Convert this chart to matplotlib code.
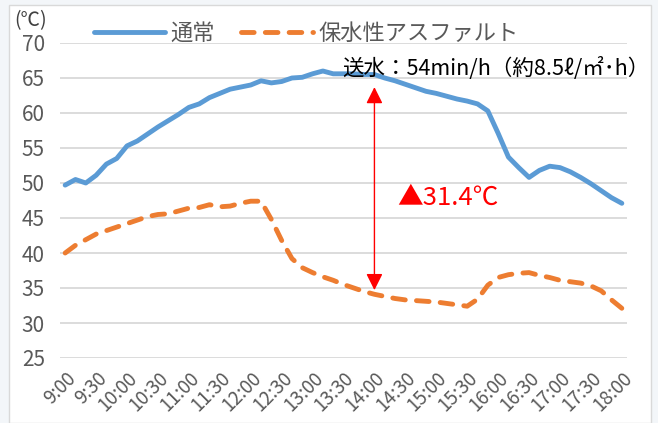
import matplotlib.pyplot as plt
from matplotlib.patches import Rectangle

plt.rcParams['font.family'] = ['Noto Sans CJK JP', 'DejaVu Sans']

# 10分間隔の測定値 (9:00〜18:00)
normal = [49.7, 50.5, 50.0, 51.1, 52.7, 53.5, 55.3, 56.0, 57.0, 58.0,
          58.9, 59.8, 60.8, 61.3, 62.2, 62.8, 63.4, 63.7, 64.0, 64.6,
          64.3, 64.5, 65.0, 65.1, 65.6, 66.0, 65.6, 65.6, 65.6, 65.5,
          65.5, 65.0, 64.6, 64.1, 63.6, 63.1, 62.8, 62.4, 62.0, 61.7,
          61.3, 60.3, 57.1, 53.7, 52.2, 50.8, 51.8, 52.4, 52.2, 51.6,
          50.8, 49.9, 48.9, 47.9, 47.1]
porous = [40.0, 41.1, 41.9, 42.7, 43.2, 43.7, 44.2, 44.7, 45.2, 45.5,
          45.6, 46.0, 46.4, 46.5, 46.9, 46.6, 46.7, 47.1, 47.4, 47.4,
          44.8, 41.8, 39.2, 37.9, 37.2, 36.6, 36.1, 35.5, 35.0, 34.5,
          34.1, 33.8, 33.5, 33.3, 33.2, 33.1, 33.0, 32.8, 32.6, 32.4,
          33.4, 35.4, 36.5, 36.9, 37.1, 37.2, 36.8, 36.5, 36.1, 35.9,
          35.7, 35.3, 34.6, 33.3, 32.1]
time_labels = ['9:00', '9:30', '10:00', '10:30', '11:00', '11:30', '12:00',
               '12:30', '13:00', '13:30', '14:00', '14:30', '15:00', '15:30',
               '16:00', '16:30', '17:00', '17:30', '18:00']
label_step = 3
arrow_idx = 30          # 14:00
arrow_top, arrow_bottom = 63.7, 34.7
diff_text = '▲31.4℃'
note_text = '送水：54min/h（約8.5ℓ/㎡･h）'

W, H = 658, 423
fig = plt.figure(figsize=(W / 100, H / 100), dpi=100, facecolor='#f3f6f9')
# 白いチャート領域
fig.patches.append(Rectangle((9 / W, 0), 642 / W, 1 - 5 / H, transform=fig.transFigure,
                             facecolor='white', edgecolor='#d9d9d9', lw=1, zorder=-10))

ax = fig.add_axes([60 / W, 1 - 358 / H, 567 / W, 315 / H])
ax.set_facecolor('none')

x = list(range(len(normal)))
ax.plot(x, normal, color='#5b9bd5', lw=3.5, solid_capstyle='round', solid_joinstyle='round',
        label='通常', zorder=3)
ax.plot(x, porous, color='#ed7d31', lw=3.5, ls=(0, (2.6, 2.3)), dash_capstyle='round',
        dash_joinstyle='round', label='保水性アスファルト', zorder=3)

ax.set_xlim(-0.5, len(normal) - 0.5)
ax.set_ylim(25, 70)
ax.set_yticks(range(25, 71, 5))
ax.set_xticks(x[::label_step])
ax.set_xticklabels(time_labels, rotation=45, ha='right', rotation_mode='anchor')
ax.tick_params(axis='both', length=0, colors='#595959')
ax.tick_params(axis='y', labelsize=15, pad=11)
ax.tick_params(axis='x', labelsize=13.5, pad=7)
ax.grid(True, axis='y', color='#d9d9d9', lw=1.3)
ax.set_axisbelow(True)
for s in ax.spines.values():
    s.set_visible(False)

# 温度差の矢印
ax.annotate('', xy=(arrow_idx, arrow_bottom), xytext=(arrow_idx, arrow_top),
            arrowprops=dict(arrowstyle='<|-|>,head_length=0.5,head_width=0.25',
                            mutation_scale=20, color='red', lw=1, shrinkA=0, shrinkB=0),
            zorder=4)
ax.text(32.2, 47.9, diff_text, color='red', fontsize=18.5, va='center', ha='left')
ax.text(26.9, 66.4, note_text, color='black', fontsize=15.5, va='center', ha='left', zorder=5)

fig.text(14 / W, 1 - 21 / H, '(℃)', fontsize=14, color='#404040', va='center', ha='left')

ax.legend(loc='center', bbox_to_anchor=(306 / W, 1 - 33 / H), bbox_transform=fig.transFigure,
          ncol=2, frameon=False, fontsize=16, handlelength=3.2, handletextpad=0.25,
          columnspacing=1.2, labelcolor='#595959')

fig.savefig('out.png', dpi=100, facecolor=fig.get_facecolor())
